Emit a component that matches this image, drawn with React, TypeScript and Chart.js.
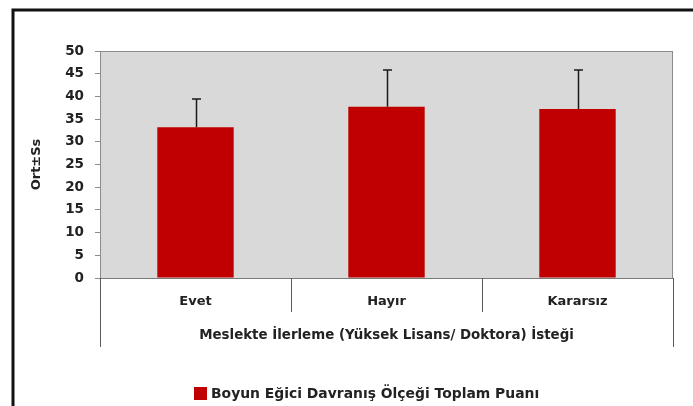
import React, { useEffect, useRef } from "react";
import { Chart, registerables } from "chart.js";

Chart.register(...registerables);

const categories = ["Evet", "Hayır", "Kararsız"];
const means = [33.2, 37.7, 37.2];
const sds = [6.2, 8.1, 8.6];
const seriesLabel = "Boyun Eğici Davranış Ölçeği Toplam Puanı";
const xTitle = "Meslekte İlerleme (Yüksek Lisans/ Doktora) İsteği";
const yTitle = "Ort±Ss";
const yMin = 0;
const yMax = 50;
const yStep = 5;

const FONT = "'DejaVu Sans', sans-serif";
const BAR_COLOR = "#c00000";

const decorPlugin = {
  id: "decor",
  beforeDraw(chart: any) {
    const { ctx, chartArea, width, height } = chart;
    ctx.save();
    ctx.fillStyle = "#ffffff";
    ctx.fillRect(0, 0, width, height);
    // outer frame (top and left visible)
    ctx.strokeStyle = "#111";
    ctx.lineWidth = 3;
    ctx.beginPath();
    ctx.moveTo(width + 5, 10);
    ctx.lineTo(13, 10);
    ctx.lineTo(13, height + 5);
    ctx.stroke();
    // plot background
    ctx.fillStyle = "#d9d9d9";
    ctx.fillRect(chartArea.left, chartArea.top, chartArea.right - chartArea.left, chartArea.bottom - chartArea.top);
    ctx.strokeStyle = "#8c8c8c";
    ctx.lineWidth = 1;
    ctx.strokeRect(chartArea.left + 0.5, chartArea.top + 0.5, chartArea.right - chartArea.left - 1, chartArea.bottom - chartArea.top);
    ctx.restore();
  },
  afterDatasetsDraw(chart: any) {
    const { ctx, chartArea } = chart;
    const x = chart.scales.x;
    const y = chart.scales.y;
    const meta = chart.getDatasetMeta(0);
    ctx.save();
    // error bars (upper only)
    ctx.strokeStyle = "#1a1a1a";
    ctx.lineWidth = 1.5;
    meta.data.forEach((bar: any, i: number) => {
      const top = y.getPixelForValue(means[i] + sds[i]);
      const bx = Math.round(bar.x) + 0.5;
      ctx.beginPath();
      ctx.moveTo(bx, bar.y);
      ctx.lineTo(bx, top);
      ctx.moveTo(bx - 4.5, top);
      ctx.lineTo(bx + 4.5, top);
      ctx.stroke();
    });
    // category separators (multi-level axis look)
    ctx.strokeStyle = "#5a5a5a";
    ctx.lineWidth = 1;
    for (let i = 0; i <= categories.length; i++) {
      const px = Math.round(x.getPixelForValue(i - 0.5)) + 0.5;
      const outer = i === 0 || i === categories.length;
      ctx.beginPath();
      ctx.moveTo(px, chartArea.bottom);
      ctx.lineTo(px, chartArea.bottom + (outer ? 69 : 34));
      ctx.stroke();
    }
    // x axis title
    ctx.fillStyle = "#222";
    ctx.font = `bold 13.4px ${FONT}`;
    ctx.textAlign = "center";
    ctx.textBaseline = "middle";
    ctx.fillText(xTitle, (chartArea.left + chartArea.right) / 2, 336);
    // legend
    ctx.fillStyle = BAR_COLOR;
    ctx.fillRect(194, 387, 13, 13);
    ctx.fillStyle = "#222";
    ctx.textAlign = "left";
    ctx.font = `bold 13.9px ${FONT}`;
    ctx.fillText(seriesLabel, 211, 394);
    ctx.restore();
  },
};

export default function App() {
  const ref = useRef<HTMLCanvasElement>(null);
  useEffect(() => {
    if (!ref.current) return;
    const chart = new Chart(ref.current, {
      type: "bar",
      data: {
        labels: categories,
        datasets: [
          {
            label: seriesLabel,
            data: means,
            backgroundColor: BAR_COLOR,
            borderWidth: 0,
            barPercentage: 0.4,
            categoryPercentage: 1.0,
          },
        ],
      },
      options: {
        responsive: false,
        animation: false,
        devicePixelRatio: 1,
        layout: { padding: { left: 24, right: 20, top: 51, bottom: 59 } },
        plugins: { legend: { display: false }, tooltip: { enabled: false } },
        scales: {
          x: {
            grid: { display: false, drawTicks: false },
            border: { display: true, color: "#7a7a7a", width: 1 },
            ticks: {
              color: "#222",
              font: { family: FONT, size: 13, weight: "bold" },
              padding: 16,
            },
            afterFit: (s: any) => {
              s.height = 69;
            },
          },
          y: {
            min: yMin,
            max: yMax,
            grid: { drawOnChartArea: false, color: "#8c8c8c", tickLength: 5 },
            border: { display: true, color: "#8c8c8c", width: 1 },
            ticks: {
              stepSize: yStep,
              color: "#222",
              padding: 11,
              font: { family: FONT, size: 13.5, weight: "bold" },
            },
            title: {
              display: true,
              text: yTitle,
              color: "#222",
              padding: { top: 5, bottom: 0 },
              font: { family: FONT, size: 13, weight: "bold" },
            },
            afterFit: (s: any) => {
              s.width = 76;
            },
          },
        },
      },
      plugins: [decorPlugin],
    });
    return () => chart.destroy();
  }, []);
  return (
    <div style={{ position: "fixed", left: 0, top: 0, width: 693, height: 406 }}>
      <canvas ref={ref} width={693} height={406} style={{ display: "block" }} />
    </div>
  );
}
